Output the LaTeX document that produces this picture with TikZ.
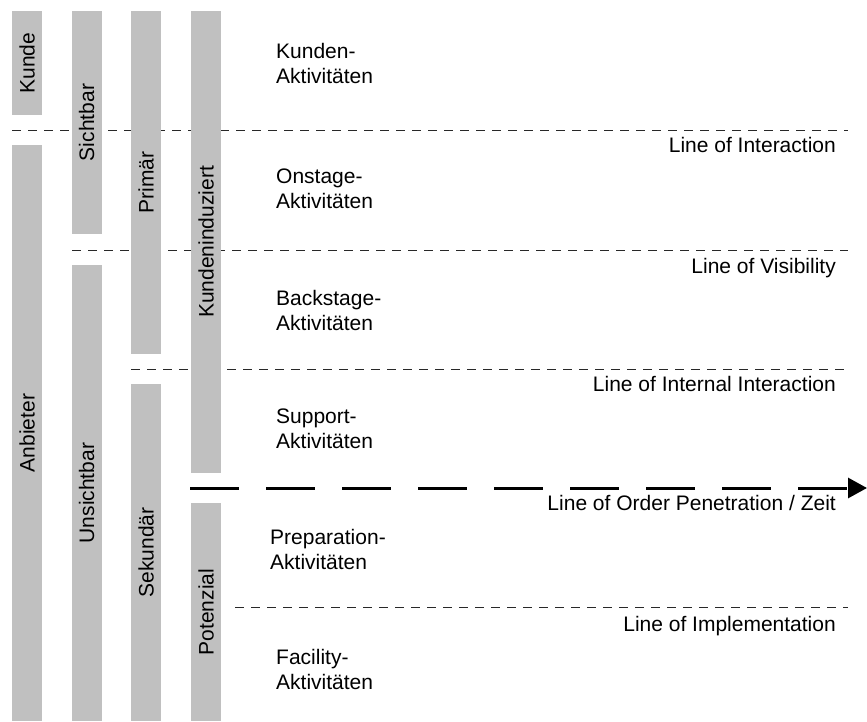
\documentclass[tikz,border=0pt]{standalone}
\usepackage{fontspec}
\setmainfont{Liberation Sans}
\usetikzlibrary{arrows.meta}
\definecolor{barfill}{RGB}{192,192,192}
\definecolor{linecol}{RGB}{40,40,40}
\tikzset{
  bar/.style={rectangle, fill=barfill, draw=none, inner sep=0pt, rotate=90,
    minimum height=30pt, font=\fontsize{21}{25}\selectfont},
  sepline/.style={draw=linecol, line width=0.9pt, dash pattern=on 9pt off 7pt},
  orderline/.style={draw=black, line width=3pt, dash pattern=on 49pt off 27pt,
    -{Triangle[length=19pt,width=20pt]}},
  linelabel/.style={inner sep=0pt, anchor=base east, font=\fontsize{21}{25}\selectfont},
  activity/.style={inner sep=0pt, anchor=west, align=left, font=\fontsize{21}{25}\selectfont}
}
\begin{document}
\begin{tikzpicture}[x=1pt,y=-1pt]
\useasboundingbox (0,0) rectangle (867,722);
% separator lines
\coordinate (i1) at (12,130);  \coordinate (i2) at (848,130);
\coordinate (v1) at (72,250);  \coordinate (v2) at (848,250);
\coordinate (n1) at (131,369); \coordinate (n2) at (848,369);
\coordinate (o1) at (190,488); \coordinate (o2) at (867,488);
\coordinate (m1) at (235,607); \coordinate (m2) at (848,607);
\draw[sepline] (i1) -- (i2);
\draw[sepline] (v1) -- (v2);
\draw[sepline] (n1) -- (n2);
\draw[sepline] (m1) -- (m2);
\draw[orderline] (o1) -- (o2);
% bars
\node[bar, minimum width=104pt] (kunde) at (27,63) {Kunde};
\node[bar, minimum width=576pt] (anbieter) at (27,433) {Anbieter};
\node[bar, minimum width=223pt] (sichtbar) at (86.5,122.5) {Sichtbar};
\node[bar, minimum width=456pt] (unsichtbar) at (86.5,493) {Unsichtbar};
\node[bar, minimum width=343pt] (primaer) at (146,182.5) {Primär};
\node[bar, minimum width=337pt] (sekundaer) at (146,552.5) {Sekundär};
\node[bar, minimum width=462pt] (kundenind) at (206,242) {Kundeninduziert};
\node[bar, minimum width=218pt] (potenzial) at (206,612) {Potenzial};
% line labels
\node[linelabel] (lint) at (836,153) {Line of Interaction};
\node[linelabel] (lvis) at (836,273) {Line of Visibility};
\node[linelabel] (lii) at (836,391) {Line of Internal Interaction};
\node[linelabel] (lop) at (836,510) {Line of Order Penetration / Zeit};
\node[linelabel] (limp) at (836,631) {Line of Implementation};
% activities
\node[activity] (a1) at (276,63) {Kunden-\\Aktivitäten};
\node[activity] (a2) at (276,189) {Onstage-\\Aktivitäten};
\node[activity] (a3) at (276,310) {Backstage-\\Aktivitäten};
\node[activity] (a4) at (276,429) {Support-\\Aktivitäten};
\node[activity] (a5) at (270,549) {Preparation-\\Aktivitäten};
\node[activity] (a6) at (276,669) {Facility-\\Aktivitäten};
\end{tikzpicture}
\end{document}
